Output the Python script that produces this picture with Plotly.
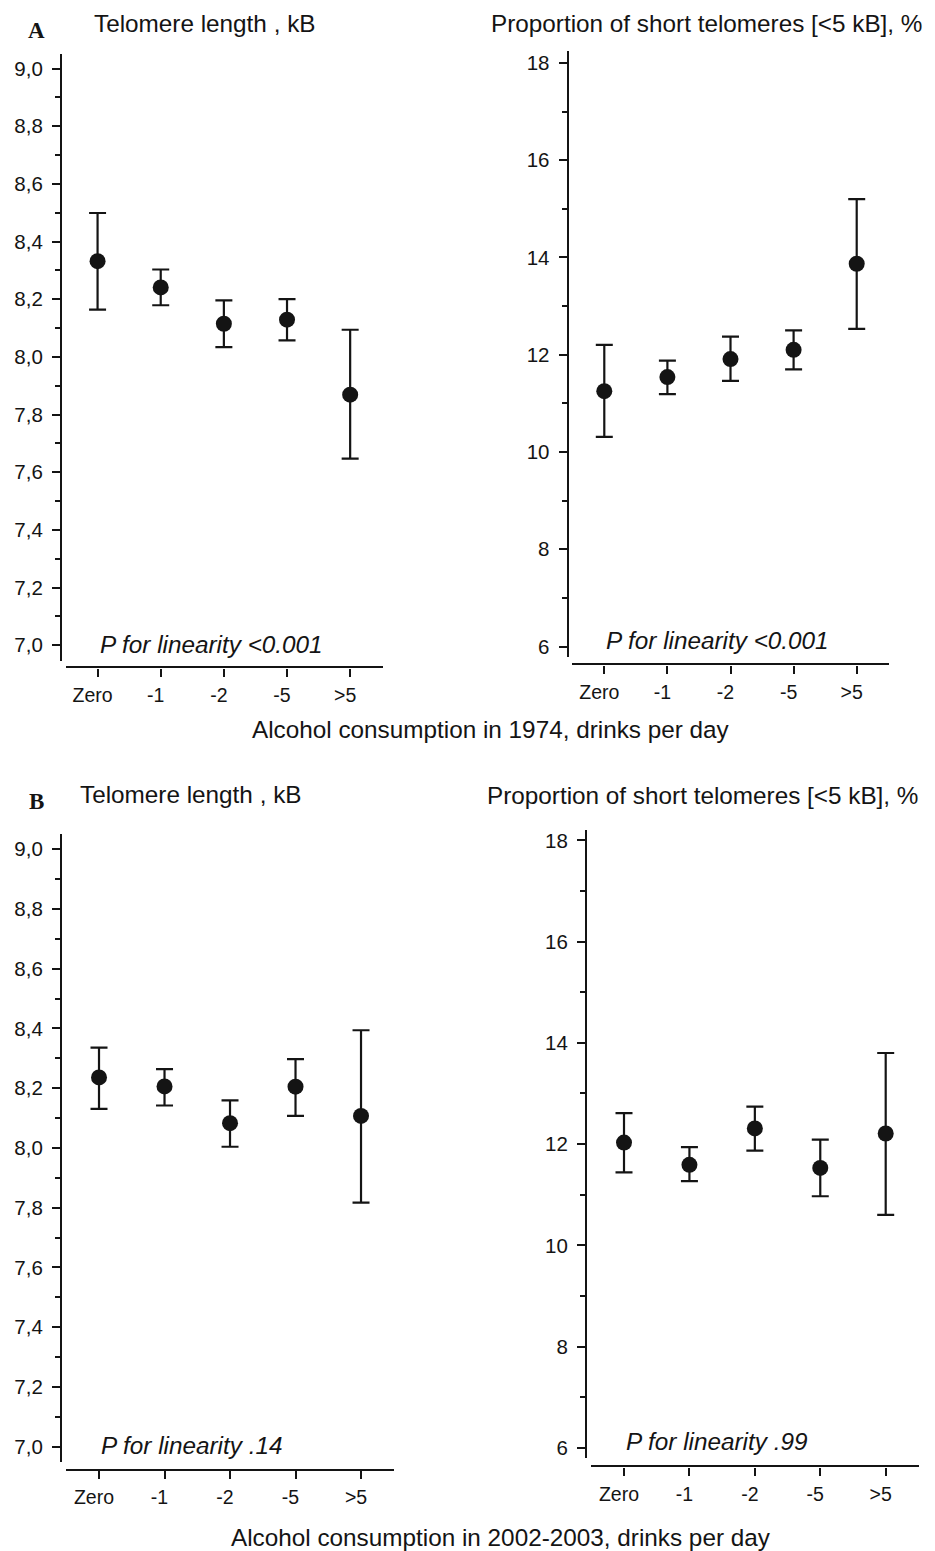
import plotly.graph_objects as go

# ---------------- data ----------------
categories = ["Zero", "-1", "-2", "-5", ">5"]

# Panel A: alcohol consumption in 1974
A_len_mean = [8.332, 8.241, 8.115, 8.129, 7.869]
A_len_upper = [8.499, 8.303, 8.196, 8.200, 8.094]
A_len_lower = [8.164, 8.179, 8.034, 8.057, 7.647]

A_short_mean = [11.25, 11.54, 11.91, 12.10, 13.87]
A_short_upper = [12.20, 11.88, 12.37, 12.50, 15.20]
A_short_lower = [10.31, 11.19, 11.46, 11.70, 12.53]

# Panel B: alcohol consumption in 2002-2003
B_len_mean = [8.236, 8.206, 8.083, 8.205, 8.107]
B_len_upper = [8.336, 8.264, 8.159, 8.297, 8.394]
B_len_lower = [8.131, 8.142, 8.004, 8.107, 7.817]

B_short_mean = [12.03, 11.59, 12.31, 11.53, 12.21]
B_short_upper = [12.61, 11.94, 12.74, 12.09, 13.80]
B_short_lower = [11.44, 11.27, 11.87, 10.97, 10.60]

title_len = "Telomere length , kB"
title_short = "Proportion of short telomeres [<5 kB], %"
p_texts = ["P for linearity <0.001", "P for linearity <0.001",
           "P for linearity .14", "P for linearity .99"]
xlabel_A = "Alcohol consumption in 1974, drinks per day"
xlabel_B = "Alcohol consumption in 2002-2003, drinks per day"

# ---------------- layout helpers ----------------
W, H = 935, 1551
FONT = "Liberation Sans, Arial, Helvetica, sans-serif"
SERIF = "Liberation Serif, Times New Roman, serif"
INK = "#141414"


def px(x):
    return x / W


def py(y):
    return 1 - y / H


# panel geometry in pixels: x domain, y domain (top,bottom), y-axis x pos, x-axis y pos, ranges
panels = [
    dict(xd=(66, 383), yd=(51.7, 660), yx=61, xy=666.7, yr=(6.946, 9.052), xr=(-0.5, 4.52),
         kind="len", mean=A_len_mean, up=A_len_upper, lo=A_len_lower),
    dict(xd=(572.3, 888.7), yd=(49.3, 656), yx=567.7, xy=663.7, yr=(5.79, 18.24), xr=(-0.507, 4.507),
         kind="short", mean=A_short_mean, up=A_short_upper, lo=A_short_lower),
    dict(xd=(66, 394.3), yd=(833.3, 1463.3), yx=61, xy=1470.7, yr=(6.947, 9.052), xr=(-0.504, 4.508),
         kind="len", mean=B_len_mean, up=B_len_upper, lo=B_len_lower),
    dict(xd=(590.7, 919), yd=(830, 1459.3), yx=586, xy=1467.3, yr=(5.79, 18.197), xr=(-0.509, 4.509),
         kind="short", mean=B_short_mean, up=B_short_upper, lo=B_short_lower),
]

fig = go.Figure()
layout = dict(
    width=W, height=H,
    margin=dict(l=0, r=0, t=0, b=0),
    paper_bgcolor="white", plot_bgcolor="white",
    showlegend=False,
    separators=",.",
    font=dict(family=FONT, color=INK),
)

for i, p in enumerate(panels):
    n = "" if i == 0 else str(i + 1)
    xa, ya = "x" + n, "y" + n
    plus = [u - m for u, m in zip(p["up"], p["mean"])]
    minus = [m - l for m, l in zip(p["mean"], p["lo"])]
    fig.add_trace(go.Scatter(
        x=categories, y=p["mean"], mode="markers",
        marker=dict(size=16, color=INK),
        error_y=dict(type="data", symmetric=False, array=plus, arrayminus=minus,
                     color=INK, thickness=2.2, width=8.5),
        xaxis=xa, yaxis=ya, cliponaxis=False,
    ))
    if p["kind"] == "len":
        ytick = dict(tick0=7.0, dtick=0.2, tickformat=".1f",
                     minor=dict(dtick=0.1, tick0=7.0, ticks="outside", ticklen=5,
                                tickwidth=2, tickcolor=INK, showgrid=False))
    else:
        ytick = dict(tick0=6, dtick=2, tickformat="d",
                     minor=dict(dtick=1, tick0=6, ticks="outside", ticklen=5,
                                tickwidth=2, tickcolor=INK, showgrid=False))
    layout["xaxis" + n] = dict(
        domain=[px(p["xd"][0]), px(p["xd"][1])],
        anchor="free", position=py(p["xy"]),
        type="category", range=list(p["xr"]),
        showline=True, linecolor=INK, linewidth=2.2,
        ticks="outside", ticklen=8, tickwidth=2, tickcolor=INK,
        showgrid=False, zeroline=False,
        tickfont=dict(size=19.5, family=FONT, color=INK),
        ticklabelshift=-5, ticklabelstandoff=2,
    )
    layout["yaxis" + n] = dict(
        domain=[py(p["yd"][1]), py(p["yd"][0])],
        anchor="free", position=px(p["yx"]),
        range=list(p["yr"]),
        showline=True, linecolor=INK, linewidth=2.2,
        ticks="outside", ticklen=8, tickwidth=2, tickcolor=INK,
        showgrid=False, zeroline=False,
        tickfont=dict(size=20.5, family=FONT, color=INK),
        ticklabelstandoff=5,
        **ytick,
    )

annotations = []


def add_text(text, x, y, size, xanchor="left", italic=False, family=FONT, bold=False):
    t = text
    if italic:
        t = "<i>" + t + "</i>"
    if bold:
        t = "<b>" + t + "</b>"
    annotations.append(dict(text=t, x=px(x), y=py(y), xref="paper", yref="paper",
                            xanchor=xanchor, yanchor="middle", showarrow=False,
                            font=dict(size=size, family=family, color=INK)))


add_text("A", 36.5, 29, 23, xanchor="center", family=SERIF, bold=True)
add_text("B", 36.5, 801, 23, xanchor="center", family=SERIF, bold=True)
add_text(title_len, 91.7, 21.7, 24.3)
add_text(title_short, 489.3, 21.7, 24.3)
add_text(title_len, 78.3, 794, 24.3)
add_text(title_short, 485, 795, 24.3)
add_text(p_texts[0], 97.7, 643.3, 24.3, italic=True)
add_text(p_texts[1], 604.3, 640, 24.3, italic=True)
add_text(p_texts[2], 99, 1446, 24.3, italic=True)
add_text(p_texts[3], 624, 1442.7, 24.3, italic=True)
add_text(xlabel_A, 490.8, 729.3, 24.3, xanchor="center")
add_text(xlabel_B, 501.3, 1538.3, 24.3, xanchor="center")

layout["annotations"] = annotations
fig.update_layout(**layout)
fig.write_html("out.html",
               config={"displayModeBar": False, "staticPlot": False},
               post_script="document.body.style.margin='0';document.body.style.overflow='hidden';")
